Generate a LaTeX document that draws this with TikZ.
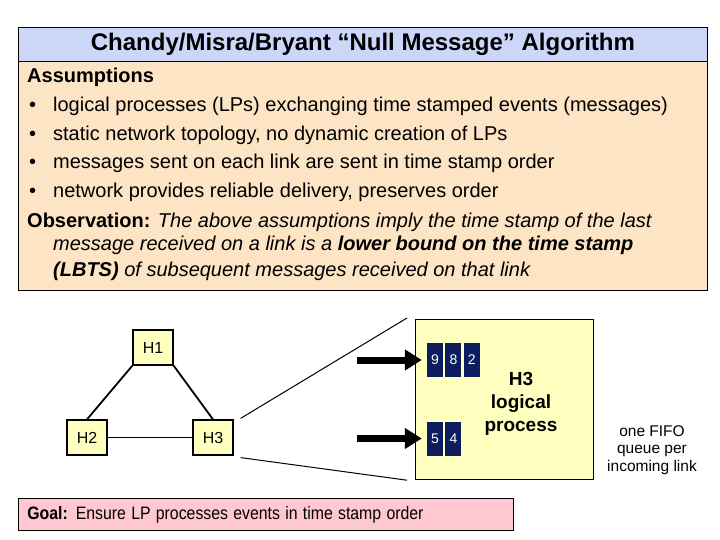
\documentclass[tikz,border=0pt]{standalone}
\usepackage{fontspec}
\setmainfont{Liberation Sans}
\usepackage{xcolor}
\usetikzlibrary{arrows.meta,positioning,calc}
\definecolor{titlefill}{HTML}{CCD6F8}
\definecolor{notefill}{HTML}{FCE4C4}
\definecolor{hostfill}{HTML}{FFFFC0}
\definecolor{goalfill}{HTML}{FFC8D0}
\definecolor{navy}{HTML}{0C1C5C}

\begin{document}
\begin{tikzpicture}[x=1pt,y=-1pt,font=\fontsize{20}{24}\selectfont,
  band/.style={draw=black,line width=0.8pt,inner sep=0pt},
  txt/.style={anchor=base west,inner sep=0pt},
  host/.style={draw=black,line width=1.2pt,fill=hostfill,minimum width=40pt,minimum height=35pt,font=\fontsize{16}{19}\selectfont},
  msg/.style={fill=navy,text=white,minimum width=16pt,minimum height=34pt,inner sep=0pt,font=\fontsize{14}{16}\selectfont},
  bigarrow/.style={line width=7pt,-{Triangle[length=17pt,width=20pt]}}]
  \useasboundingbox (0,0) rectangle (720,540);

  % header and the assumptions panel
  \node[band,fill=titlefill,minimum width=689pt,minimum height=34pt,anchor=north west,
        font=\fontsize{24}{28}\selectfont\bfseries] (title) at (18,27) {Chandy/Misra/Bryant “Null Message” Algorithm};
  \node[band,fill=notefill,minimum width=689pt,minimum height=229pt,anchor=north west] (notes) at (18,61) {};

  \node[txt,font=\fontsize{20}{24}\selectfont\bfseries] (assume) at (27,83) {Assumptions};
  \node[txt] (b1) at (29,112) {\makebox[24pt][l]{\textbullet}logical processes (LPs) exchanging time stamped events (messages)};
  \node[txt] (b2) at (29,141) {\makebox[24pt][l]{\textbullet}static network topology, no dynamic creation of LPs};
  \node[txt] (b3) at (29,169) {\makebox[24pt][l]{\textbullet}messages sent on each link are sent in time stamp order};
  \node[txt] (b4) at (29,198) {\makebox[24pt][l]{\textbullet}network provides reliable delivery, preserves order};
  \node[txt] (obs1) at (27,227) {\textbf{Observation:} \textit{The above assumptions imply the time stamp of the last}};
  \node[txt] (obs2) at (53,251) {\textit{message received on a link is a \textbf{lower bound on the time stamp}}};
  \node[txt] (obs3) at (53,276) {\textit{\textbf{(LBTS)} of subsequent messages received on that link}};

  % the three hosts
  \node[host] (h1) at (153,347.5) {H1};
  \node[host] (h2) at (87,437.5) {H2};
  \node[host] (h3) at (213,437.5) {H3};
  \draw[line width=1.8pt] (h1.south west) -- (h2.north);
  \draw[line width=1.8pt] (h1.south east) -- (h3.north);
  \draw[line width=1.3pt] (h2) -- (h3);

  % zoom into H3
  \node[draw=black,line width=1.2pt,fill=hostfill,minimum width=178pt,minimum height=160pt,anchor=north west] (lp) at (415,319) {};
  \draw[line width=1pt] ($(h3.north east)+(7,-1)$) -- ($(lp.north west)+(-8,-1)$);
  \draw[line width=1pt] ($(h3.south east)+(7,2)$) -- ($(lp.south west)+(-8,0)$);
  \node[align=center,font=\fontsize{19}{23}\selectfont\bfseries] (lpname) at (521,404) {H3\\logical\\process};

  \node[msg] (q9) at (435,360) {9};
  \node[msg,right=2pt of q9] (q8) {8};
  \node[msg,right=2pt of q8] (q2) {2};
  \node[msg] (q5) at (435,438.5) {5};
  \node[msg,right=2pt of q5] (q4) {4};

  \coordinate (in1) at (357,360);
  \coordinate (in2) at (357,438.5);
  \draw[bigarrow,shorten >=5pt] (in1) -- (q9.west);
  \draw[bigarrow,shorten >=5pt] (in2) -- (q5.west);

  \node[align=center,font=\fontsize{15.5}{17.5}\selectfont] (fifo) at (652,450) {one FIFO\\queue per\\incoming link};

  % goal
  \node[band,fill=goalfill,minimum height=32pt,text width=477pt,inner xsep=9pt,align=left,anchor=north west,
        font=\fontsize{18}{20}\selectfont] (goal) at (18,498)
    {\scalebox{0.88}[1]{\textbf{Goal:} Ensure LP processes events in time stamp order}};
\end{tikzpicture}
\end{document}
